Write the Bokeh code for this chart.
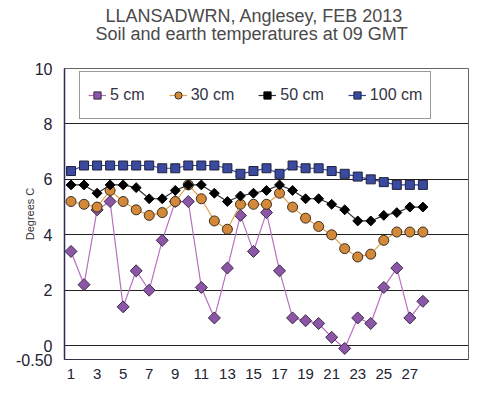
import numpy as np
from bokeh.plotting import figure
from bokeh.models import Range1d, FixedTicker, Title, Legend, LegendItem
from bokeh.embed import file_html
from bokeh.resources import INLINE

days = list(range(1, 29))
t5 = [3.4, 2.2, 4.9, 5.2, 1.4, 2.7, 2.0, 3.8, 5.2, 5.2, 2.1, 1.0, 2.8, 4.7,
      3.4, 4.8, 2.7, 1.0, 0.9, 0.8, 0.3, -0.1, 1.0, 0.8, 2.1, 2.8, 1.0, 1.6]
t30 = [5.2, 5.1, 5.0, 5.6, 5.2, 4.9, 4.7, 4.8, 5.2, 5.8, 5.3, 4.5, 4.2, 5.1,
       5.1, 5.1, 5.5, 5.0, 4.6, 4.3, 4.0, 3.5, 3.2, 3.3, 3.8, 4.1, 4.1, 4.1]
t50 = [5.8, 5.8, 5.5, 5.8, 5.8, 5.7, 5.3, 5.3, 5.6, 5.8, 5.8, 5.5, 5.2, 5.4,
       5.5, 5.6, 5.8, 5.6, 5.3, 5.3, 5.1, 4.9, 4.5, 4.5, 4.7, 4.8, 5.0, 5.0]
t100 = [6.3, 6.5, 6.5, 6.5, 6.5, 6.5, 6.5, 6.4, 6.4, 6.5, 6.5, 6.5, 6.4, 6.2,
        6.3, 6.4, 6.2, 6.5, 6.4, 6.4, 6.3, 6.2, 6.1, 6.0, 5.9, 5.8, 5.8, 5.8]
series_names = ["5 cm", "30 cm", "50 cm", "100 cm"]
title_lines = ["LLANSADWRN, Anglesey, FEB 2013", "Soil and earth temperatures at 09 GMT"]
x_ticks = list(range(1, 29, 2))
y_ticks = [-0.5, 0, 2, 4, 6, 8, 10]
y_labels = {-0.5: "-0.50", 0: "0", 2: "2", 4: "4", 6: "6", 8: "8", 10: "10"}

FONT = "Liberation Sans"

p = figure(width=470, height=389, output_backend="svg", toolbar_location=None,
           x_range=Range1d(0.5, 31.5), y_range=Range1d(-0.5, 10),
           min_border_left=64, min_border_right=2, min_border_top=68,
           min_border_bottom=30)

# spacer nearest the frame, then the second title line
p.add_layout(Title(text=" ", text_font=FONT, text_font_size="18px", standoff=3), "above")
p.add_layout(Title(text=title_lines[1], align="left", offset=31,
                   text_font=FONT, text_font_size="18px", text_font_style="normal",
                   text_color="#4a4a4a", standoff=0), "above")
p.title.text = title_lines[0]
p.title.align = "left"
p.title.offset = 41
p.title.text_font = FONT
p.title.text_font_size = "18px"
p.title.text_font_style = "normal"
p.title.text_color = "#4a4a4a"
p.title.standoff = -8

p.outline_line_color = "#666666"
p.outline_line_width = 1
p.background_fill_color = "white"
p.border_fill_color = "white"

p.xgrid.visible = False
p.ygrid.ticker = FixedTicker(ticks=[0, 2, 4, 6, 8])
p.ygrid.grid_line_color = "#222222"
p.ygrid.grid_line_width = 1

p.xaxis.ticker = FixedTicker(ticks=x_ticks)
p.xaxis.major_tick_line_color = None
p.xaxis.minor_tick_line_color = None
p.xaxis.axis_line_color = "#333344"
p.xaxis.major_label_text_font = FONT
p.xaxis.major_label_text_font_size = "15px"
p.xaxis.major_label_text_color = "#222233"
p.xaxis.major_label_standoff = 3

p.yaxis.ticker = FixedTicker(ticks=y_ticks)
p.yaxis.major_label_overrides = y_labels
p.yaxis.major_tick_line_color = None
p.yaxis.minor_tick_line_color = None
p.yaxis.axis_line_color = "#2a2a55"
p.yaxis.axis_line_width = 1.5
p.yaxis.major_label_text_font = FONT
p.yaxis.major_label_text_font_size = "16px"
p.yaxis.major_label_text_color = "#222233"
p.yaxis.major_label_standoff = 6
p.yaxis.axis_label = "Degrees C"
p.yaxis.axis_label_text_font = FONT
p.yaxis.axis_label_text_font_size = "11px"
p.yaxis.axis_label_text_font_style = "normal"
p.yaxis.axis_label_text_color = "#333333"
p.yaxis.axis_label_standoff = -23

items = []
specs = [
    (t5, "#b870c0", "square", 8.5, "#8c56a6", "#3a2a4a", np.pi / 4, 1.2),
    (t30, "#e4a552", "circle", 10, "#d4883a", "#3a3020", 0, 1.2),
    (t50, "#333333", "square", 7, "#000000", "#000000", np.pi / 4, 1.2),
    (t100, "#3445a0", "square", 9, "#3a4aa0", "#22223a", 0, 1.2),
]
for (vals, lc, mk, sz, fc, oc, ang, lw), name in zip(specs, series_names):
    r1 = p.line(days, vals, line_color=lc, line_width=lw)
    r2 = p.scatter(days, vals, marker=mk, size=sz, fill_color=fc, line_color=oc,
                   line_width=1, angle=ang)
    items.append(LegendItem(label=name, renderers=[r1, r2]))

legend = Legend(items=items, orientation="horizontal", location=(15, 240),
                border_line_color="#333333", border_line_width=1,
                background_fill_color="white", background_fill_alpha=1,
                label_text_font=FONT, label_text_font_size="16px",
                label_text_color="#333344", glyph_width=18, glyph_height=30,
                label_height=30, label_standoff=4, spacing=24, padding=8, margin=0)
p.add_layout(legend, "center")

open("out.html", "w").write(file_html(p, INLINE))
